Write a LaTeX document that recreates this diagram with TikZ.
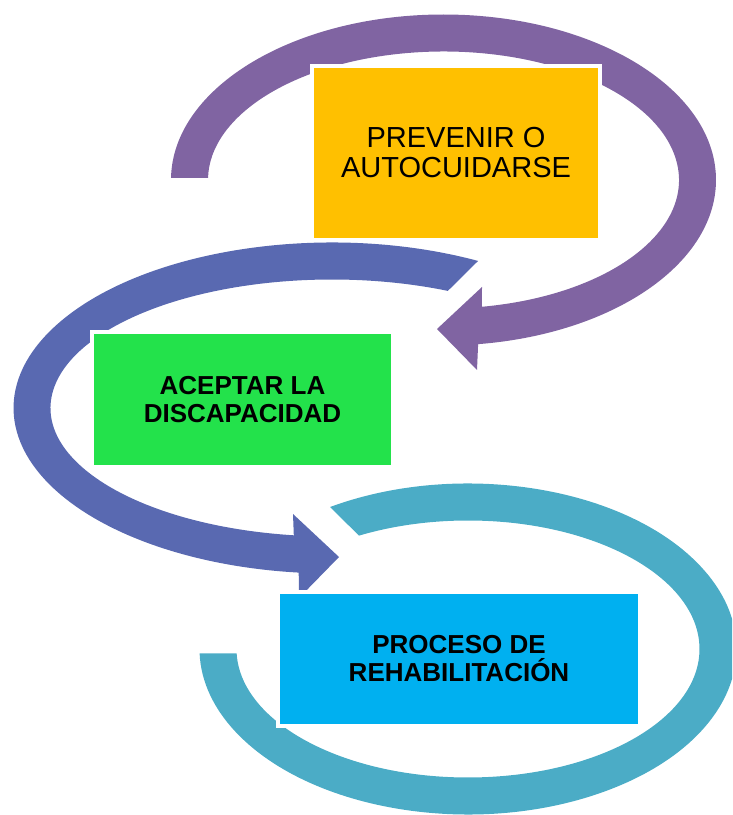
\documentclass[tikz,border=0pt]{standalone}
\usepackage{fontspec}
\setmainfont{Liberation Sans}
\definecolor{ringpurple}{HTML}{8064A2}
\definecolor{ringblue}{HTML}{5969B1}
\definecolor{ringteal}{HTML}{4BACC6}
\definecolor{boxyellow}{HTML}{FFC000}
\definecolor{boxgreen}{HTML}{23E24B}
\definecolor{boxcyan}{HTML}{00B0F0}
\begin{document}
\begin{tikzpicture}[x=1pt,y=1pt,
  ring/.style={fill=#1},
  box/.style={draw=white, line width=4pt, inner sep=0pt, align=center, text=black},
  regulartext/.style={font=\fontsize{29}{30}\selectfont},
  boldtext/.style={font=\bfseries\fontsize{26}{28}\selectfont}]
\clip (0,0) rectangle (732,815);
% purple circular arrow
\fill[ring=ringpurple, shift={(443.5,635)}]
  (179.3:272.5pt and 165.5pt)
  arc[start angle=179.3, end angle=-82.7, x radius=272.5pt, y radius=165.5pt]
  -- (33.5,-190) -- (-6.5,-149) -- (38.5,-107)
  -- (-80.6:235.5pt and 128.5pt)
  arc[start angle=-80.6, end angle=179.1, x radius=235.5pt, y radius=128.5pt]
  -- cycle;
% blue circular arrow
\fill[ring=ringblue, shift={(332,407)}]
  (62.7:318.5pt and 165.5pt)
  arc[start angle=62.7, end angle=264, x radius=318.5pt, y radius=165.5pt]
  -- (-33,-190) -- (7,-149) -- (-39,-106)
  -- (262.2:281.5pt and 128.5pt)
  arc[start angle=262.2, end angle=65.7, x radius=281.5pt, y radius=128.5pt]
  -- cycle;
% teal circular band
\fill[ring=ringteal, shift={(468,166)}]
  (120.9:268.5pt and 165.5pt)
  arc[start angle=120.9, end angle=-178.5, x radius=268.5pt, y radius=165.5pt]
  -- (-178.1:231.5pt and 128.5pt)
  arc[start angle=-178.1, end angle=118.1, x radius=231.5pt, y radius=128.5pt]
  -- cycle;
% boxes
\node[box, regulartext, fill=boxyellow, minimum width=288pt, minimum height=174pt]
  (prevenir) at (456,662) {PREVENIR O\\AUTOCUIDARSE};
\node[box, boldtext, fill=boxgreen, minimum width=301pt, minimum height=135pt]
  (aceptar) at (242.5,415.5) {ACEPTAR LA\\DISCAPACIDAD};
\node[box, boldtext, fill=boxcyan, minimum width=362pt, minimum height=134pt]
  (proceso) at (459,156) {PROCESO DE\\REHABILITACIÓN};
\end{tikzpicture}
\end{document}
